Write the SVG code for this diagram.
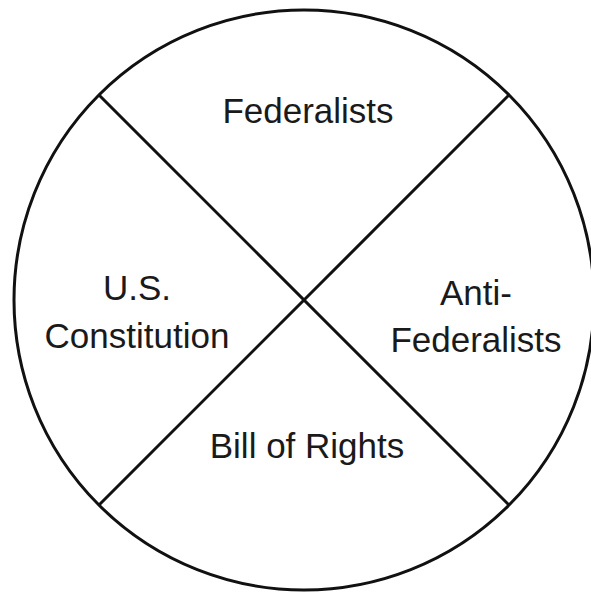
<svg xmlns="http://www.w3.org/2000/svg" width="591" height="593" viewBox="0 0 591 593">
<style>
.ln{fill:none;stroke:#111;stroke-width:3}
.t{font-family:"Liberation Sans",Arial,sans-serif;font-size:35px;fill:#1a1a1a;text-anchor:middle}
</style>
<rect width="591" height="593" fill="#fff"/>
<g id="connectors">
<circle class="ln" cx="304" cy="300" r="290"/>
<line class="ln" x1="99" y1="95" x2="509" y2="505"/>
<line class="ln" x1="509" y1="95" x2="99" y2="505"/>
</g>
<g id="federalists"><text class="t" x="308" y="123">Federalists</text></g>
<g id="constitution"><text class="t" x="137" y="300">U.S.</text><text class="t" x="137" y="348">Constitution</text></g>
<g id="antifederalists"><text class="t" x="476" y="305">Anti-</text><text class="t" x="476" y="352">Federalists</text></g>
<g id="billofrights"><text class="t" x="307" y="458">Bill of Rights</text></g>
</svg>
